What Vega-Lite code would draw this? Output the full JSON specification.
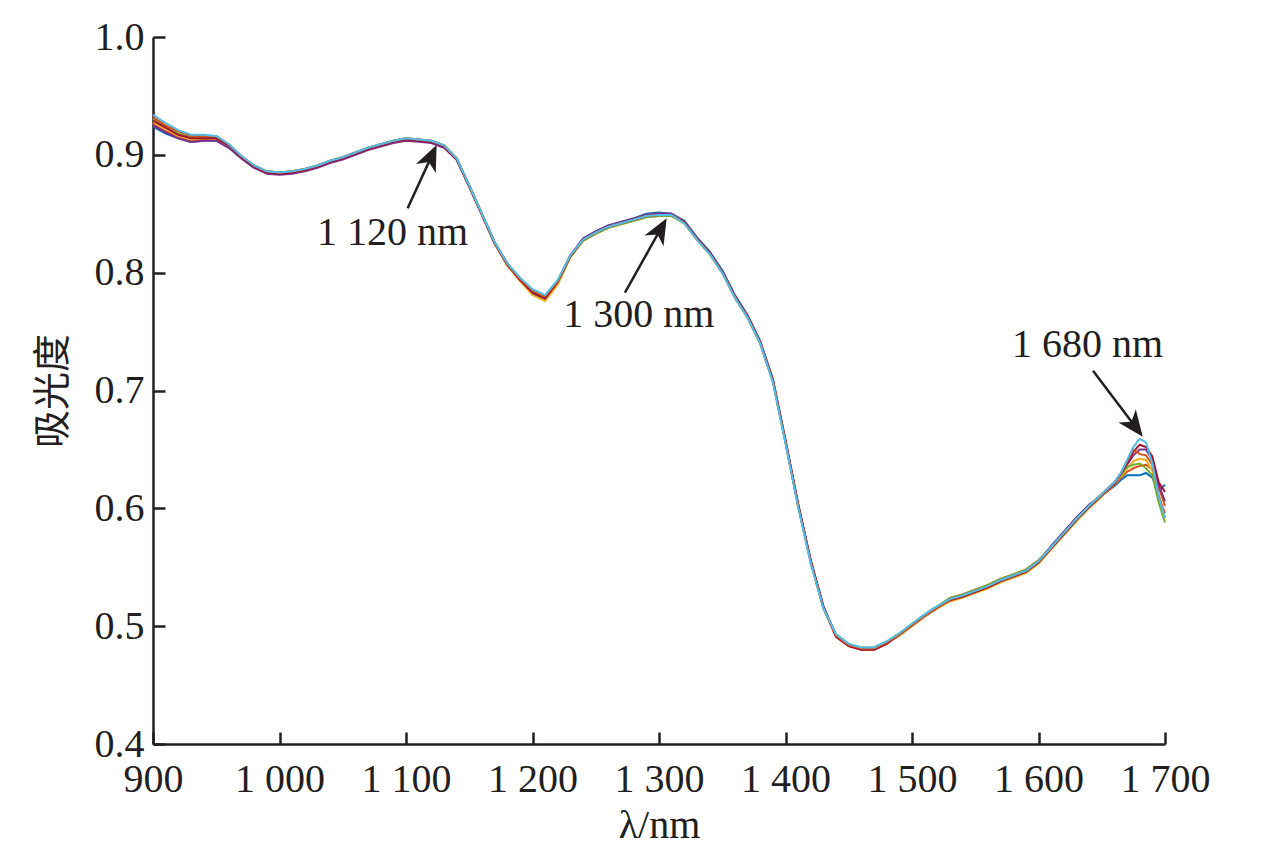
{
  "$schema": "https://vega.github.io/schema/vega-lite/v6.json",
  "width": 1012,
  "height": 707,
  "autosize": {"type": "none"},
  "padding": {"left": 153, "top": 37, "right": 111, "bottom": 105},
  "background": "white",
  "config": {
    "view": {"stroke": null},
    "axis": {
      "grid": false,
      "domainColor": "#231F20",
      "domainWidth": 2.5,
      "tickColor": "#231F20",
      "tickWidth": 2.5,
      "labelFont": "Liberation Serif",
      "labelFontSize": 40,
      "labelColor": "#231F20",
      "labelOverlap": false,
      "labelFlush": false,
      "titleColor": "#231F20",
      "titleFontWeight": "normal"
    }
  },
  "resolve": {"axis": {"x": "independent", "y": "independent"}},
  "layer": [
    {
      "data": {
        "values": [
          {"x": 900, "a": 0.924, "b": 0.926, "c": 0.928, "d": 0.925, "e": 0.930, "f": 0.929, "g": 0.932, "h": 0.934},
          {"x": 910, "a": 0.918, "b": 0.920, "c": 0.922, "d": 0.919, "e": 0.924, "f": 0.923, "g": 0.925, "h": 0.927},
          {"x": 920, "a": 0.914, "b": 0.915, "c": 0.916, "d": 0.914, "e": 0.918, "f": 0.917, "g": 0.920, "h": 0.921},
          {"x": 930, "a": 0.911, "b": 0.912, "c": 0.913, "d": 0.911, "e": 0.915, "f": 0.914, "g": 0.916, "h": 0.917},
          {"x": 940, "a": 0.912, "b": 0.913, "c": 0.914, "d": 0.912, "e": 0.915, "f": 0.914, "g": 0.916, "h": 0.917},
          {"x": 950, "a": 0.912, "b": 0.913, "c": 0.913, "d": 0.912, "e": 0.915, "f": 0.914, "g": 0.916, "h": 0.916},
          {"x": 960, "a": 0.906, "b": 0.907, "c": 0.907, "d": 0.906, "e": 0.908, "f": 0.908, "g": 0.909, "h": 0.909},
          {"x": 970, "a": 0.897, "b": 0.897, "c": 0.898, "d": 0.897, "e": 0.898, "f": 0.898, "g": 0.899, "h": 0.899},
          {"x": 980, "a": 0.889, "b": 0.890, "c": 0.890, "d": 0.889, "e": 0.891, "f": 0.890, "g": 0.891, "h": 0.891},
          {"x": 990, "a": 0.885, "b": 0.885, "c": 0.886, "d": 0.884, "e": 0.886, "f": 0.885, "g": 0.886, "h": 0.886},
          {"x": 1000, "a": 0.884, "b": 0.884, "c": 0.885, "d": 0.883, "e": 0.885, "f": 0.884, "g": 0.885, "h": 0.885},
          {"x": 1010, "a": 0.885, "b": 0.885, "c": 0.886, "d": 0.884, "e": 0.886, "f": 0.885, "g": 0.886, "h": 0.886},
          {"x": 1020, "a": 0.887, "b": 0.887, "c": 0.888, "d": 0.886, "e": 0.888, "f": 0.887, "g": 0.888, "h": 0.888},
          {"x": 1030, "a": 0.890, "b": 0.890, "c": 0.891, "d": 0.889, "e": 0.891, "f": 0.890, "g": 0.891, "h": 0.891},
          {"x": 1040, "a": 0.894, "b": 0.894, "c": 0.895, "d": 0.893, "e": 0.895, "f": 0.894, "g": 0.895, "h": 0.895},
          {"x": 1050, "a": 0.897, "b": 0.897, "c": 0.898, "d": 0.896, "e": 0.898, "f": 0.897, "g": 0.898, "h": 0.898},
          {"x": 1060, "a": 0.901, "b": 0.901, "c": 0.902, "d": 0.900, "e": 0.902, "f": 0.901, "g": 0.902, "h": 0.902},
          {"x": 1070, "a": 0.905, "b": 0.905, "c": 0.906, "d": 0.904, "e": 0.906, "f": 0.905, "g": 0.906, "h": 0.906},
          {"x": 1080, "a": 0.908, "b": 0.908, "c": 0.909, "d": 0.907, "e": 0.909, "f": 0.908, "g": 0.909, "h": 0.909},
          {"x": 1090, "a": 0.911, "b": 0.911, "c": 0.912, "d": 0.910, "e": 0.912, "f": 0.911, "g": 0.912, "h": 0.912},
          {"x": 1100, "a": 0.913, "b": 0.913, "c": 0.914, "d": 0.912, "e": 0.914, "f": 0.913, "g": 0.914, "h": 0.914},
          {"x": 1110, "a": 0.912, "b": 0.912, "c": 0.913, "d": 0.911, "e": 0.913, "f": 0.912, "g": 0.913, "h": 0.913},
          {"x": 1120, "a": 0.911, "b": 0.911, "c": 0.912, "d": 0.910, "e": 0.912, "f": 0.911, "g": 0.912, "h": 0.912},
          {"x": 1130, "a": 0.907, "b": 0.907, "c": 0.908, "d": 0.906, "e": 0.908, "f": 0.907, "g": 0.908, "h": 0.908},
          {"x": 1140, "a": 0.896, "b": 0.897, "c": 0.897, "d": 0.896, "e": 0.897, "f": 0.896, "g": 0.897, "h": 0.897},
          {"x": 1150, "a": 0.873, "b": 0.873, "c": 0.873, "d": 0.874, "e": 0.874, "f": 0.873, "g": 0.874, "h": 0.874},
          {"x": 1160, "a": 0.849, "b": 0.849, "c": 0.849, "d": 0.850, "e": 0.850, "f": 0.849, "g": 0.850, "h": 0.850},
          {"x": 1170, "a": 0.825, "b": 0.825, "c": 0.825, "d": 0.826, "e": 0.826, "f": 0.825, "g": 0.826, "h": 0.826},
          {"x": 1180, "a": 0.807, "b": 0.807, "c": 0.806, "d": 0.808, "e": 0.807, "f": 0.807, "g": 0.808, "h": 0.808},
          {"x": 1190, "a": 0.794, "b": 0.794, "c": 0.793, "d": 0.795, "e": 0.795, "f": 0.794, "g": 0.795, "h": 0.796},
          {"x": 1200, "a": 0.782, "b": 0.783, "c": 0.781, "d": 0.784, "e": 0.784, "f": 0.783, "g": 0.785, "h": 0.786},
          {"x": 1210, "a": 0.777, "b": 0.778, "c": 0.776, "d": 0.779, "e": 0.779, "f": 0.778, "g": 0.780, "h": 0.781},
          {"x": 1220, "a": 0.791, "b": 0.792, "c": 0.790, "d": 0.793, "e": 0.793, "f": 0.792, "g": 0.793, "h": 0.794},
          {"x": 1230, "a": 0.814, "b": 0.814, "c": 0.813, "d": 0.815, "e": 0.814, "f": 0.814, "g": 0.815, "h": 0.815},
          {"x": 1240, "a": 0.829, "b": 0.828, "c": 0.827, "d": 0.829, "e": 0.827, "f": 0.828, "g": 0.828, "h": 0.828},
          {"x": 1250, "a": 0.835, "b": 0.834, "c": 0.833, "d": 0.835, "e": 0.833, "f": 0.834, "g": 0.834, "h": 0.834},
          {"x": 1260, "a": 0.840, "b": 0.839, "c": 0.838, "d": 0.840, "e": 0.838, "f": 0.839, "g": 0.839, "h": 0.839},
          {"x": 1270, "a": 0.843, "b": 0.842, "c": 0.841, "d": 0.843, "e": 0.841, "f": 0.842, "g": 0.842, "h": 0.842},
          {"x": 1280, "a": 0.846, "b": 0.845, "c": 0.844, "d": 0.846, "e": 0.844, "f": 0.845, "g": 0.845, "h": 0.845},
          {"x": 1290, "a": 0.850, "b": 0.849, "c": 0.847, "d": 0.849, "e": 0.847, "f": 0.848, "g": 0.848, "h": 0.848},
          {"x": 1300, "a": 0.851, "b": 0.850, "c": 0.848, "d": 0.850, "e": 0.848, "f": 0.849, "g": 0.849, "h": 0.849},
          {"x": 1310, "a": 0.850, "b": 0.850, "c": 0.848, "d": 0.850, "e": 0.848, "f": 0.849, "g": 0.849, "h": 0.849},
          {"x": 1320, "a": 0.844, "b": 0.843, "c": 0.842, "d": 0.843, "e": 0.842, "f": 0.843, "g": 0.842, "h": 0.842},
          {"x": 1330, "a": 0.830, "b": 0.829, "c": 0.828, "d": 0.829, "e": 0.828, "f": 0.829, "g": 0.828, "h": 0.828},
          {"x": 1340, "a": 0.818, "b": 0.817, "c": 0.816, "d": 0.817, "e": 0.816, "f": 0.817, "g": 0.816, "h": 0.816},
          {"x": 1350, "a": 0.802, "b": 0.801, "c": 0.800, "d": 0.801, "e": 0.800, "f": 0.801, "g": 0.800, "h": 0.800},
          {"x": 1360, "a": 0.781, "b": 0.780, "c": 0.779, "d": 0.780, "e": 0.779, "f": 0.780, "g": 0.779, "h": 0.779},
          {"x": 1370, "a": 0.764, "b": 0.763, "c": 0.762, "d": 0.763, "e": 0.762, "f": 0.763, "g": 0.762, "h": 0.762},
          {"x": 1380, "a": 0.742, "b": 0.741, "c": 0.740, "d": 0.741, "e": 0.740, "f": 0.741, "g": 0.740, "h": 0.740},
          {"x": 1390, "a": 0.710, "b": 0.709, "c": 0.708, "d": 0.709, "e": 0.708, "f": 0.709, "g": 0.708, "h": 0.707},
          {"x": 1400, "a": 0.658, "b": 0.657, "c": 0.656, "d": 0.657, "e": 0.656, "f": 0.657, "g": 0.656, "h": 0.655},
          {"x": 1410, "a": 0.604, "b": 0.603, "c": 0.602, "d": 0.603, "e": 0.602, "f": 0.603, "g": 0.602, "h": 0.601},
          {"x": 1420, "a": 0.556, "b": 0.555, "c": 0.554, "d": 0.555, "e": 0.554, "f": 0.555, "g": 0.554, "h": 0.553},
          {"x": 1430, "a": 0.517, "b": 0.516, "c": 0.515, "d": 0.516, "e": 0.515, "f": 0.516, "g": 0.515, "h": 0.515},
          {"x": 1440, "a": 0.492, "b": 0.491, "c": 0.492, "d": 0.492, "e": 0.493, "f": 0.491, "g": 0.492, "h": 0.493},
          {"x": 1450, "a": 0.484, "b": 0.483, "c": 0.484, "d": 0.484, "e": 0.485, "f": 0.483, "g": 0.484, "h": 0.485},
          {"x": 1460, "a": 0.481, "b": 0.480, "c": 0.481, "d": 0.481, "e": 0.482, "f": 0.480, "g": 0.481, "h": 0.482},
          {"x": 1470, "a": 0.481, "b": 0.480, "c": 0.481, "d": 0.481, "e": 0.482, "f": 0.480, "g": 0.481, "h": 0.482},
          {"x": 1480, "a": 0.486, "b": 0.485, "c": 0.486, "d": 0.486, "e": 0.487, "f": 0.485, "g": 0.486, "h": 0.487},
          {"x": 1490, "a": 0.492, "b": 0.493, "c": 0.492, "d": 0.493, "e": 0.494, "f": 0.493, "g": 0.493, "h": 0.494},
          {"x": 1500, "a": 0.500, "b": 0.501, "c": 0.500, "d": 0.501, "e": 0.502, "f": 0.501, "g": 0.501, "h": 0.502},
          {"x": 1510, "a": 0.508, "b": 0.509, "c": 0.508, "d": 0.509, "e": 0.510, "f": 0.509, "g": 0.509, "h": 0.510},
          {"x": 1520, "a": 0.515, "b": 0.516, "c": 0.515, "d": 0.516, "e": 0.517, "f": 0.516, "g": 0.516, "h": 0.517},
          {"x": 1530, "a": 0.522, "b": 0.524, "c": 0.521, "d": 0.523, "e": 0.524, "f": 0.522, "g": 0.523, "h": 0.523},
          {"x": 1540, "a": 0.525, "b": 0.527, "c": 0.524, "d": 0.526, "e": 0.527, "f": 0.525, "g": 0.526, "h": 0.526},
          {"x": 1550, "a": 0.529, "b": 0.531, "c": 0.528, "d": 0.530, "e": 0.531, "f": 0.529, "g": 0.530, "h": 0.530},
          {"x": 1560, "a": 0.533, "b": 0.535, "c": 0.532, "d": 0.534, "e": 0.535, "f": 0.533, "g": 0.534, "h": 0.534},
          {"x": 1570, "a": 0.538, "b": 0.540, "c": 0.537, "d": 0.539, "e": 0.540, "f": 0.538, "g": 0.539, "h": 0.539},
          {"x": 1580, "a": 0.542, "b": 0.544, "c": 0.541, "d": 0.543, "e": 0.544, "f": 0.542, "g": 0.543, "h": 0.543},
          {"x": 1590, "a": 0.546, "b": 0.548, "c": 0.545, "d": 0.547, "e": 0.548, "f": 0.546, "g": 0.547, "h": 0.547},
          {"x": 1600, "a": 0.554, "b": 0.556, "c": 0.553, "d": 0.555, "e": 0.556, "f": 0.554, "g": 0.555, "h": 0.555},
          {"x": 1610, "a": 0.568, "b": 0.566, "c": 0.565, "d": 0.568, "e": 0.567, "f": 0.566, "g": 0.567, "h": 0.567},
          {"x": 1620, "a": 0.580, "b": 0.578, "c": 0.577, "d": 0.580, "e": 0.579, "f": 0.578, "g": 0.579, "h": 0.579},
          {"x": 1630, "a": 0.592, "b": 0.590, "c": 0.589, "d": 0.592, "e": 0.591, "f": 0.590, "g": 0.591, "h": 0.591},
          {"x": 1640, "a": 0.603, "b": 0.601, "c": 0.600, "d": 0.603, "e": 0.602, "f": 0.601, "g": 0.602, "h": 0.602},
          {"x": 1645, "a": 0.607, "b": 0.606, "c": 0.605, "d": 0.607, "e": 0.607, "f": 0.606, "g": 0.607, "h": 0.607},
          {"x": 1650, "a": 0.611, "b": 0.611, "c": 0.610, "d": 0.612, "e": 0.612, "f": 0.611, "g": 0.612, "h": 0.612},
          {"x": 1655, "a": 0.615, "b": 0.615, "c": 0.616, "d": 0.617, "e": 0.617, "f": 0.616, "g": 0.617, "h": 0.617},
          {"x": 1660, "a": 0.619, "b": 0.620, "c": 0.621, "d": 0.622, "e": 0.622, "f": 0.621, "g": 0.622, "h": 0.622},
          {"x": 1665, "a": 0.624, "b": 0.626, "c": 0.627, "d": 0.629, "e": 0.628, "f": 0.629, "g": 0.630, "h": 0.630},
          {"x": 1670, "a": 0.628, "b": 0.631, "c": 0.634, "d": 0.637, "e": 0.635, "f": 0.638, "g": 0.640, "h": 0.641},
          {"x": 1675, "a": 0.628, "b": 0.634, "c": 0.640, "d": 0.645, "e": 0.637, "f": 0.648, "g": 0.650, "h": 0.652},
          {"x": 1680, "a": 0.628, "b": 0.636, "c": 0.642, "d": 0.650, "e": 0.638, "f": 0.654, "g": 0.646, "h": 0.659},
          {"x": 1685, "a": 0.630, "b": 0.637, "c": 0.641, "d": 0.650, "e": 0.634, "f": 0.652, "g": 0.645, "h": 0.656},
          {"x": 1690, "a": 0.626, "b": 0.633, "c": 0.632, "d": 0.641, "e": 0.628, "f": 0.644, "g": 0.637, "h": 0.638},
          {"x": 1695, "a": 0.615, "b": 0.618, "c": 0.612, "d": 0.620, "e": 0.605, "f": 0.622, "g": 0.610, "h": 0.610},
          {"x": 1700, "a": 0.620, "b": 0.602, "c": 0.592, "d": 0.606, "e": 0.588, "f": 0.614, "g": 0.596, "h": 0.592}
        ]
      },
      "transform": [
        {"fold": ["a", "b", "c", "d", "e", "f", "g", "h"], "as": ["sample", "absorbance"]}
      ],
      "mark": {"type": "line", "strokeWidth": 2},
      "encoding": {
        "x": {
          "field": "x",
          "type": "quantitative",
          "scale": {"domain": [900, 1700], "nice": false, "zero": false},
          "axis": {
            "orient": "bottom",
            "values": [900, 1000, 1100, 1200, 1300, 1400, 1500, 1600, 1700],
            "labelExpr": "datum.value >= 1000 ? '1 ' + format(datum.value - 1000, '03d') : format(datum.value, 'd')",
            "ticks": false,
            "tickSize": 0,
            "labelPadding": 15,
            "title": "λ/nm",
            "titleFont": "Liberation Serif",
            "titleFontSize": 40,
            "titlePadding": 6
          }
        },
        "y": {
          "field": "absorbance",
          "type": "quantitative",
          "scale": {"domain": [0.4, 1.0], "nice": false, "zero": false},
          "axis": {
            "orient": "left",
            "values": [0.4, 0.5, 0.6, 0.7, 0.8, 0.9, 1.0],
            "format": ".1f",
            "ticks": false,
            "tickSize": 0,
            "labelPadding": 9,
            "title": "吸光度",
            "titleFont": "Noto Sans CJK SC",
            "titleFontSize": 38,
            "titlePadding": 22
          }
        },
        "color": {
          "field": "sample",
          "type": "nominal",
          "scale": {
            "domain": ["a", "b", "c", "d", "e", "f", "g", "h"],
            "range": ["#0072BD", "#D95319", "#EDB120", "#7E2F8E", "#77AC30", "#A2142F", "#D95319", "#4DBEEE"]
          },
          "legend": null
        }
      }
    },
    {
      "data": {
        "values": [
          {"x0": 1101.3, "y0": 0.8547, "x1": 1120.3, "y1": 0.8991},
          {"x0": 1273.1, "y0": 0.783, "x1": 1301.4, "y1": 0.8373},
          {"x0": 1643.1, "y0": 0.7168, "x1": 1676.7, "y1": 0.669}
        ]
      },
      "mark": {"type": "rule", "strokeWidth": 2.5, "color": "#231F20"},
      "encoding": {
        "x": {"field": "x0", "type": "quantitative", "axis": null},
        "y": {"field": "y0", "type": "quantitative", "axis": null},
        "x2": {"field": "x1"},
        "y2": {"field": "y1"}
      }
    },
    {
      "data": {
        "values": [
          {"tx": 1124.2, "ty": 0.9084, "angle": 24.6},
          {"tx": 1306.1, "ty": 0.8462, "angle": 29.3},
          {"tx": 1682.4, "ty": 0.6608, "angle": 143}
        ]
      },
      "mark": {
        "type": "point",
        "shape": "M0,0L0.42,1L0,0.72L-0.42,1Z",
        "filled": true,
        "size": 2700,
        "color": "#231F20",
        "opacity": 1,
        "strokeWidth": 0
      },
      "encoding": {
        "x": {
          "field": "tx",
          "type": "quantitative",
          "axis": {
            "orient": "top",
            "offset": -707,
            "values": [900, 1000, 1100, 1200, 1300, 1400, 1500, 1600, 1700],
            "domain": false,
            "labels": false,
            "ticks": true,
            "tickSize": 12,
            "title": null
          }
        },
        "y": {
          "field": "ty",
          "type": "quantitative",
          "axis": {
            "orient": "right",
            "offset": -1012,
            "values": [0.4, 0.5, 0.6, 0.7, 0.8, 0.9, 1.0],
            "domain": false,
            "labels": false,
            "ticks": true,
            "tickSize": 12,
            "title": null
          }
        },
        "angle": {"field": "angle", "type": "quantitative", "scale": null}
      }
    },
    {
      "data": {
        "values": [
          {"lx": 1089.3, "ly": 0.8337, "label": "1 120 nm"},
          {"lx": 1284, "ly": 0.764, "label": "1 300 nm"},
          {"lx": 1638.7, "ly": 0.7387, "label": "1 680 nm"}
        ]
      },
      "mark": {
        "type": "text",
        "font": "Liberation Serif",
        "fontSize": 40,
        "color": "#231F20",
        "align": "center",
        "baseline": "middle"
      },
      "encoding": {
        "x": {"field": "lx", "type": "quantitative", "axis": null},
        "y": {"field": "ly", "type": "quantitative", "axis": null},
        "text": {"field": "label", "type": "nominal"}
      }
    }
  ]
}
